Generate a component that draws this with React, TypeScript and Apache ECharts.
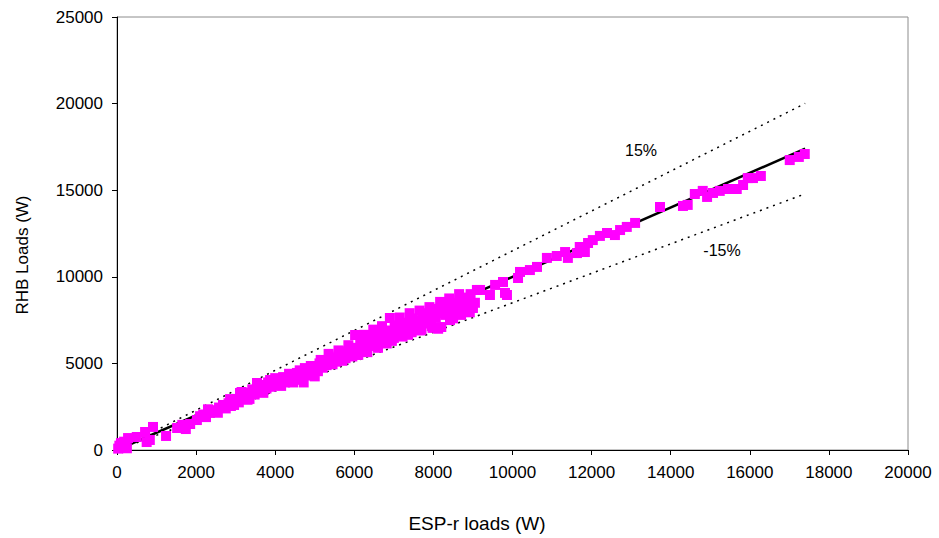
import React, { useEffect, useRef } from "react";
import * as echarts from "echarts";

const xTicks = [0, 2000, 4000, 6000, 8000, 10000, 12000, 14000, 16000, 18000, 20000];
const yTicks = [0, 5000, 10000, 15000, 20000, 25000];

// ESP-r loads (W), RHB loads (W)
const lowPoints: [number, number][] = [
  [30, 80], [60, 250], [100, 400], [140, 150], [180, 480], [220, 300], [250, 100],
  [280, 690], [500, 750], [710, 1040], [750, 460], [830, 580], [910, 1330], [1240, 810],
  [1520, 1270], [1740, 1210], [1650, 1450], [1850, 1500],
];
const bandPoints: [number, number][] = [
  [2020, 1730], [2100, 1950], [2180, 2050], [2250, 1900], [2350, 2140], [2420, 2300], [2500, 2200],
  [2580, 2450], [2680, 2600], [2750, 2400], [2820, 2700], [2900, 2850], [2960, 2600],
  [3020, 2950], [3080, 2750], [3110, 3290], [3180, 3050], [3250, 3150], [3300, 2900], [3380, 3300],
  [3420, 3500], [3480, 3200], [3540, 3870], [3560, 3400], [3620, 3600], [3680, 3350], [3720, 3750],
  [3780, 3550], [3820, 3900], [3870, 4040], [3900, 3650], [3960, 3800],
  [4020, 3950], [4080, 3750], [4120, 4100], [4200, 4210], [4250, 3900], [4310, 4150], [4380, 4000],
  [4420, 4350], [4480, 4150], [4550, 4450], [4600, 4200], [4650, 4050], [4700, 4400], [4750, 4730],
  [4800, 4300], [4850, 4550], [4900, 4650], [4960, 4400],
  [5020, 4800], [5080, 4550], [5120, 5000], [5200, 4750], [5260, 5100], [5300, 4900], [5380, 5250],
  [5420, 5000], [5480, 5350], [5550, 5100], [5600, 5450], [5650, 5250], [5720, 5600], [5780, 5300],
  [5820, 5700], [5880, 5450], [5940, 5850], [5980, 5600],
  [6040, 5500], [6080, 5900], [6150, 6100], [6200, 5700], [6250, 6300], [6300, 5900], [6350, 6450],
  [6400, 6100], [6450, 6600], [6500, 6250], [6560, 6000], [6620, 6500], [6680, 6200], [6720, 6750],
  [6780, 6400], [6840, 6900], [6900, 6600], [6950, 6300],
  [7020, 7050], [7080, 6700], [7120, 7200], [7180, 6900], [7250, 7350], [7300, 7000], [7360, 6650],
  [7420, 7300], [7480, 7600], [7540, 7100], [7600, 7450], [7660, 6900], [7720, 7700], [7780, 7300],
  [7840, 7900], [7900, 7500], [7960, 7150],
  [8020, 8150], [8060, 7650], [8120, 7000], [8180, 7900], [8250, 8300], [8300, 7800], [8380, 8100],
  [8420, 7500], [8480, 8500], [8550, 8200], [8600, 7900], [8660, 8650], [8720, 8400], [8750, 8150],
  [8800, 8800], [8860, 8550], [8920, 7950], [8940, 9000],
];
const bandEdgePoints: [number, number][] = [
  [2300, 2350], [2550, 2150], [2860, 2940], [2880, 2540], [3150, 3350], [3350, 2950], [3600, 3750],
  [3700, 3300], [4000, 4150], [4150, 3700], [4350, 4400], [4450, 3900], [4620, 4600], [4720, 3900],
  [4900, 4850], [5000, 4250], [5150, 5200], [5230, 4900], [5350, 5550], [5450, 4950], [5600, 5750],
  [5700, 5150], [5850, 6050], [5950, 5400], [6020, 6640], [6100, 5490], [6250, 6650], [6330, 5650],
  [6480, 6950], [6600, 5900], [6700, 7150], [6820, 6150], [6900, 7620], [7000, 6470], [7150, 7650],
  [7220, 6550], [7400, 7900], [7450, 6800], [7650, 8050], [7700, 6950], [7900, 8250], [7980, 7050],
  [8170, 8550], [8200, 7100], [8400, 8750], [8500, 7600], [8650, 9000], [8700, 7800], [9100, 9240],
  [9050, 8500],
];
const highPoints: [number, number][] = [
  [9000, 8200], [9180, 9240], [9430, 8950], [9560, 9530], [9760, 9700], [9810, 9070], [9860, 8950],
  [10140, 9930], [10190, 10280], [10440, 10390], [10620, 10570], [10870, 11090], [11120, 11200],
  [11330, 11430], [11400, 11090], [11630, 11370], [11700, 11720], [11830, 11430], [11910, 11950],
  [12030, 12120], [12210, 12360], [12390, 12530], [12590, 12410], [12720, 12700], [12890, 12880],
  [13100, 13110], [13730, 14030], [14310, 14090], [14430, 14150], [14610, 14780], [14810, 14960],
  [14920, 14610], [15070, 14840], [15240, 14960], [15450, 15070], [15670, 15070], [15830, 15300],
  [15950, 15700], [16080, 15700], [16280, 15820], [17010, 16740], [17240, 16920], [17390, 17090],
];
const scatterData = [...lowPoints, ...bandPoints, ...bandEdgePoints, ...highPoints];

const equalLine: [number, number][] = [[0, 0], [17400, 17400]];
const plus15Line: [number, number][] = [[0, 0], [17400, 20010]];
const minus15Line: [number, number][] = [[0, 0], [17400, 14790]];

const FONT = "'Liberation Sans', Arial, sans-serif";

export default function App() {
  const ref = useRef<HTMLDivElement>(null);
  useEffect(() => {
    if (!ref.current) return;
    const chart = echarts.init(ref.current, undefined, { renderer: "svg" });
    chart.setOption({
      animation: false,
      backgroundColor: "#fff",
      textStyle: { fontFamily: FONT },
      grid: {
        left: 117, top: 17, right: 31, bottom: 88,
        show: true, borderColor: "#8c8c8c", borderWidth: 1, backgroundColor: "transparent",
      },
      xAxis: {
        type: "value", min: xTicks[0], max: xTicks[xTicks.length - 1], interval: 2000,
        axisLine: { show: true, lineStyle: { color: "#000", width: 1 } },
        axisTick: { show: true, inside: false, length: 5, lineStyle: { color: "#000" } },
        axisLabel: { color: "#000", fontSize: 17, fontFamily: FONT, margin: 14, formatter: (v: number) => String(v) },
        splitLine: { show: false },
      },
      yAxis: {
        type: "value", min: yTicks[0], max: yTicks[yTicks.length - 1], interval: 5000,
        axisLine: { show: true, lineStyle: { color: "#000", width: 1 } },
        axisTick: { show: true, inside: false, length: 5, lineStyle: { color: "#000" } },
        axisLabel: { color: "#000", fontSize: 17, fontFamily: FONT, margin: 14, formatter: (v: number) => String(v) },
        splitLine: { show: false },
      },
      series: [
        {
          type: "line", data: plus15Line, symbol: "none", z: 2,
          lineStyle: { color: "#000", width: 1.5, type: [2, 5] },
        },
        {
          type: "line", data: minus15Line, symbol: "none", z: 2,
          lineStyle: { color: "#000", width: 1.5, type: [2, 5] },
        },
        {
          type: "line", data: equalLine, symbol: "none", z: 3,
          lineStyle: { color: "#000", width: 2.5 },
        },
        {
          type: "scatter", data: scatterData, symbol: "rect", symbolSize: 10, z: 5,
          itemStyle: { color: "#ff00ff", opacity: 1 },
        },
      ],
      graphic: [
        {
          type: "text", x: 477, y: 523,
          style: { text: "ESP-r loads (W)", fontSize: 19, fontFamily: FONT, fill: "#000", align: "center", verticalAlign: "middle" },
        },
        {
          type: "text", x: 22, y: 255, rotation: Math.PI / 2,
          style: { text: "RHB Loads (W)", fontSize: 17, fontFamily: FONT, fill: "#000", align: "center", verticalAlign: "middle" },
        },
        {
          type: "text", x: 641, y: 150,
          style: { text: "15%", fontSize: 16, fontFamily: FONT, fill: "#000", align: "center", verticalAlign: "middle" },
        },
        {
          type: "text", x: 722, y: 250,
          style: { text: "-15%", fontSize: 16, fontFamily: FONT, fill: "#000", align: "center", verticalAlign: "middle" },
        },
      ],
    });
    return () => chart.dispose();
  }, []);
  return <div ref={ref} style={{ width: 939, height: 538, position: "absolute", left: 0, top: 0 }} />;
}
